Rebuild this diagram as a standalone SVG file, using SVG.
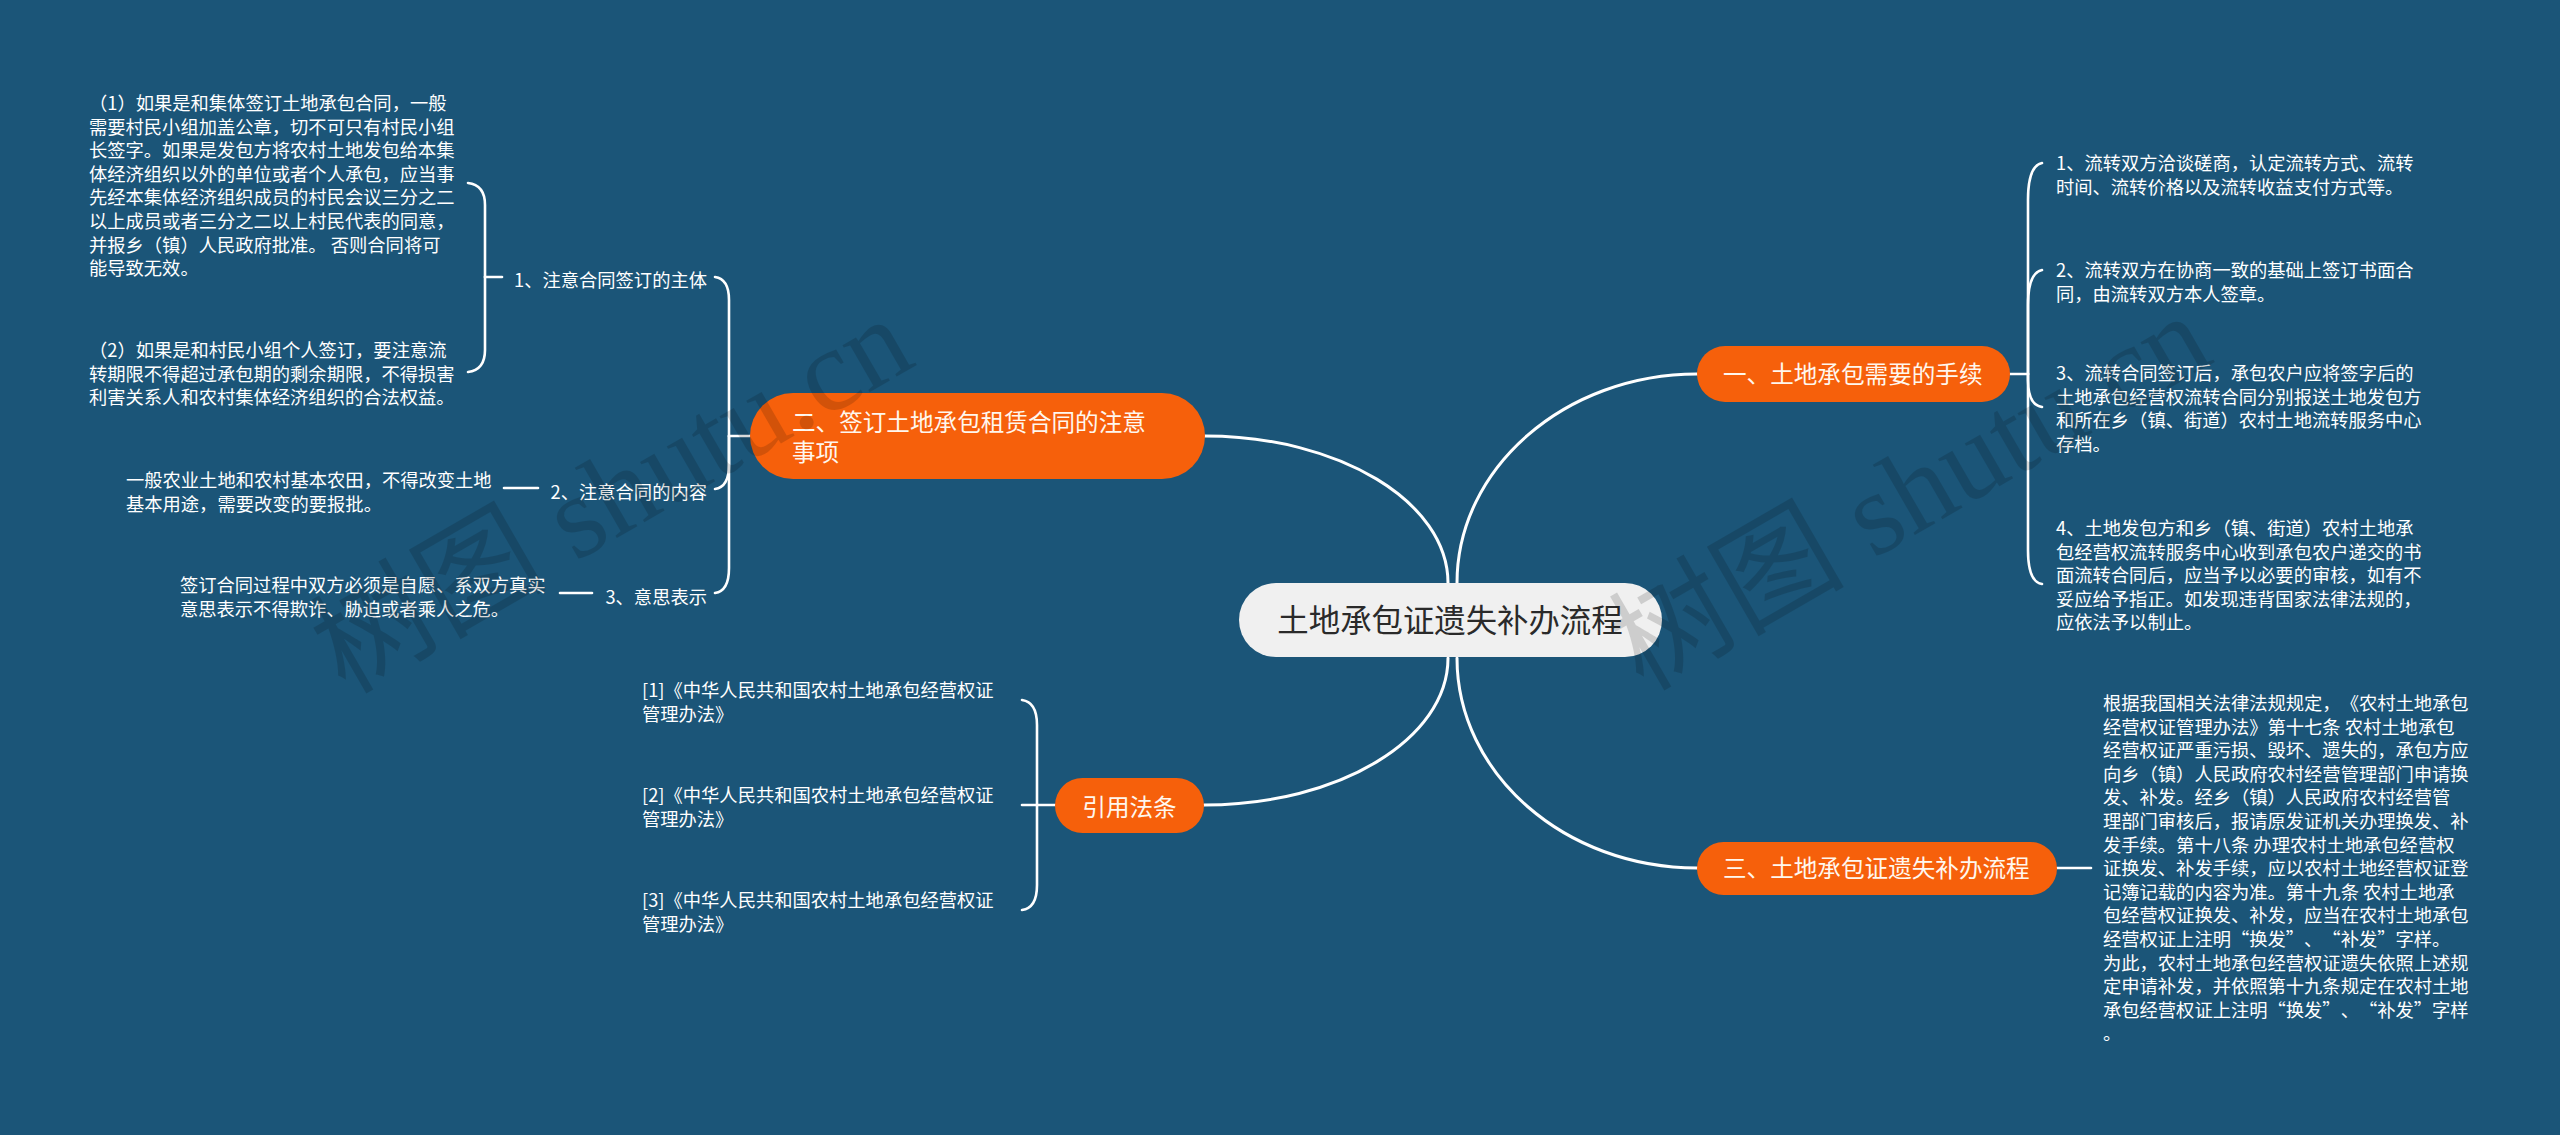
<svg xmlns="http://www.w3.org/2000/svg" width="2560" height="1135" viewBox="0 0 2560 1135">
<defs>
<style>
text{text-spacing-trim:space-all}
.conn{fill:none;stroke:#ffffff;stroke-width:3;stroke-linecap:round;stroke-linejoin:round}
.br{fill:none;stroke:#ffffff;stroke-width:2.6;stroke-linecap:round}
.org{fill:#f6600b}
.t{font-family:"Noto Sans CJK SC","Noto Sans",sans-serif;font-size:18.3px;fill:#ffffff}
.tb{font-family:"Noto Sans CJK SC","Noto Sans",sans-serif;font-size:23.6px;fill:#fff7ee}
.tc{font-family:"Noto Sans CJK SC","Noto Sans",sans-serif;font-size:31.4px;fill:#2a2a2a}
.wm{font-family:"Liberation Serif","Noto Sans CJK SC",serif;font-size:118px;fill:#000000;opacity:0.14}
</style>
</defs>
<rect x="0" y="0" width="2560" height="1135" fill="#1b5578"/>

<g id="connectors">
<path class="conn" d="M1457,583 C1457,468 1565,374 1697,374"/>
<path class="conn" d="M1457,658 C1457,774 1565,868 1697,868"/>
<path class="conn" d="M1448,583 C1448,502 1339,436 1205,436"/>
<path class="conn" d="M1448,658 C1448,739 1339,805 1204,805"/>
<path class="br" d="M2010,374 H2028"/>
<path class="br" d="M2028,374 L2028,200 Q2028,166 2042,163"/>
<path class="br" d="M2028,374 L2028,305 Q2028,273 2042,270"/>
<path class="br" d="M2028,374 L2028,380 Q2028,405 2042,407"/>
<path class="br" d="M2028,374 L2028,550 Q2028,582 2042,584"/>
<path class="br" d="M2057,868 H2091"/>
<path class="br" d="M750,436 H729"/>
<path class="br" d="M729,436 L729,300 Q729,279 715,277"/>
<path class="br" d="M729,436 L729,465 Q729,487 715,489"/>
<path class="br" d="M729,436 L729,568 Q729,591 715,593"/>
<path class="br" d="M502,277 H485"/>
<path class="br" d="M485,277 L485,205 Q485,185 468,183"/>
<path class="br" d="M485,277 L485,350 Q485,370 468,372"/>
<path class="br" d="M538,488 H504"/>
<path class="br" d="M592,593 H560"/>
<path class="br" d="M1055,805 H1022"/>
<path class="br" d="M1037,805 L1037,725 Q1037,702 1022,700"/>
<path class="br" d="M1037,805 L1037,885 Q1037,908 1022,910"/>
</g>

<g id="center">
<rect x="1239" y="583" width="423" height="74" rx="37" fill="#f0f0f0"/>
<text class="tc" x="1450" y="632" text-anchor="middle">土地承包证遗失补办流程</text>
</g>

<g id="n1">
<rect class="org" x="1697" y="346" width="313" height="56" rx="28"/>
<text class="tb" x="1723" y="383">一、土地承包需要的手续</text>
</g>
<g id="n1-1">
<text class="t" x="2056" y="170">1、流转双方洽谈磋商，认定流转方式、流转</text>
<text class="t" x="2056" y="193.6">时间、流转价格以及流转收益支付方式等。</text>
</g>
<g id="n1-2">
<text class="t" x="2056" y="277">2、流转双方在协商一致的基础上签订书面合</text>
<text class="t" x="2056" y="300.6">同，由流转双方本人签章。</text>
</g>
<g id="n1-3">
<text class="t" x="2056" y="380">3、流转合同签订后，承包农户应将签字后的</text>
<text class="t" x="2056" y="403.6">土地承包经营权流转合同分别报送土地发包方</text>
<text class="t" x="2056" y="427.2">和所在乡（镇、街道）农村土地流转服务中心</text>
<text class="t" x="2056" y="450.8">存档。</text>
</g>
<g id="n1-4">
<text class="t" x="2056" y="535">4、土地发包方和乡（镇、街道）农村土地承</text>
<text class="t" x="2056" y="558.6">包经营权流转服务中心收到承包农户递交的书</text>
<text class="t" x="2056" y="582.2">面流转合同后，应当予以必要的审核，如有不</text>
<text class="t" x="2056" y="605.8">妥应给予指正。如发现违背国家法律法规的，</text>
<text class="t" x="2056" y="629.4">应依法予以制止。</text>
</g>

<g id="n3">
<rect class="org" x="1697" y="842" width="360" height="53" rx="26.5"/>
<text class="tb" x="1723" y="877">三、土地承包证遗失补办流程</text>
</g>
<g id="n3-1">
<text class="t" x="2103" y="710">根据我国相关法律法规规定，《农村土地承包</text>
<text class="t" x="2103" y="733.6">经营权证管理办法》第十七条 农村土地承包</text>
<text class="t" x="2103" y="757.2">经营权证严重污损、毁坏、遗失的，承包方应</text>
<text class="t" x="2103" y="780.8">向乡（镇）人民政府农村经营管理部门申请换</text>
<text class="t" x="2103" y="804.4">发、补发。经乡（镇）人民政府农村经营管</text>
<text class="t" x="2103" y="828">理部门审核后，报请原发证机关办理换发、补</text>
<text class="t" x="2103" y="851.6">发手续。第十八条 办理农村土地承包经营权</text>
<text class="t" x="2103" y="875.2">证换发、补发手续，应以农村土地经营权证登</text>
<text class="t" x="2103" y="898.8">记簿记载的内容为准。第十九条 农村土地承</text>
<text class="t" x="2103" y="922.4">包经营权证换发、补发，应当在农村土地承包</text>
<text class="t" x="2103" y="946">经营权证上注明“换发”、“补发”字样。</text>
<text class="t" x="2103" y="969.6">为此，农村土地承包经营权证遗失依照上述规</text>
<text class="t" x="2103" y="993.2">定申请补发，并依照第十九条规定在农村土地</text>
<text class="t" x="2103" y="1016.8">承包经营权证上注明“换发”、“补发”字样</text>
<text class="t" x="2103" y="1040.4">。</text>
</g>

<g id="n2">
<rect class="org" x="750" y="393" width="455" height="86" rx="43"/>
<text class="tb" x="792" y="431">二、签订土地承包租赁合同的注意</text>
<text class="tb" x="792" y="461">事项</text>
</g>
<g id="n2-1">
<text class="t" x="707" y="287" text-anchor="end">1、注意合同签订的主体</text>
</g>
<g id="n2-1-1">
<text class="t" x="89" y="110">（1）如果是和集体签订土地承包合同，一般</text>
<text class="t" x="89" y="133.6">需要村民小组加盖公章，切不可只有村民小组</text>
<text class="t" x="89" y="157.2">长签字。如果是发包方将农村土地发包给本集</text>
<text class="t" x="89" y="180.8">体经济组织以外的单位或者个人承包，应当事</text>
<text class="t" x="89" y="204.4">先经本集体经济组织成员的村民会议三分之二</text>
<text class="t" x="89" y="228">以上成员或者三分之二以上村民代表的同意，</text>
<text class="t" x="89" y="251.6">并报乡（镇）人民政府批准。 否则合同将可</text>
<text class="t" x="89" y="275.2">能导致无效。</text>
</g>
<g id="n2-1-2">
<text class="t" x="89" y="357">（2）如果是和村民小组个人签订，要注意流</text>
<text class="t" x="89" y="380.6">转期限不得超过承包期的剩余期限，不得损害</text>
<text class="t" x="89" y="404.2">利害关系人和农村集体经济组织的合法权益。</text>
</g>
<g id="n2-2">
<text class="t" x="707" y="499" text-anchor="end">2、注意合同的内容</text>
</g>
<g id="n2-2-1">
<text class="t" x="126" y="487">一般农业土地和农村基本农田，不得改变土地</text>
<text class="t" x="126" y="511">基本用途，需要改变的要报批。</text>
</g>
<g id="n2-3">
<text class="t" x="707" y="604" text-anchor="end">3、意思表示</text>
</g>
<g id="n2-3-1">
<text class="t" x="180" y="592">签订合同过程中双方必须是自愿、系双方真实</text>
<text class="t" x="180" y="616">意思表示不得欺诈、胁迫或者乘人之危。</text>
</g>

<g id="n4">
<rect class="org" x="1055" y="778" width="149" height="55" rx="27.5"/>
<text class="tb" x="1129.5" y="816" text-anchor="middle">引用法条</text>
</g>
<g id="n4-1">
<text class="t" x="642" y="697">[1]《中华人民共和国农村土地承包经营权证</text>
<text class="t" x="642" y="720.6">管理办法》</text>
</g>
<g id="n4-2">
<text class="t" x="642" y="802">[2]《中华人民共和国农村土地承包经营权证</text>
<text class="t" x="642" y="825.6">管理办法》</text>
</g>
<g id="n4-3">
<text class="t" x="642" y="907">[3]《中华人民共和国农村土地承包经营权证</text>
<text class="t" x="642" y="930.6">管理办法》</text>
</g>

<g id="watermarks">
<text class="wm" transform="translate(345,695) rotate(-30)">树图 shutu.cn</text>
<text class="wm" transform="translate(1643,692) rotate(-30)">树图 shutu.cn</text>
</g>
</svg>
